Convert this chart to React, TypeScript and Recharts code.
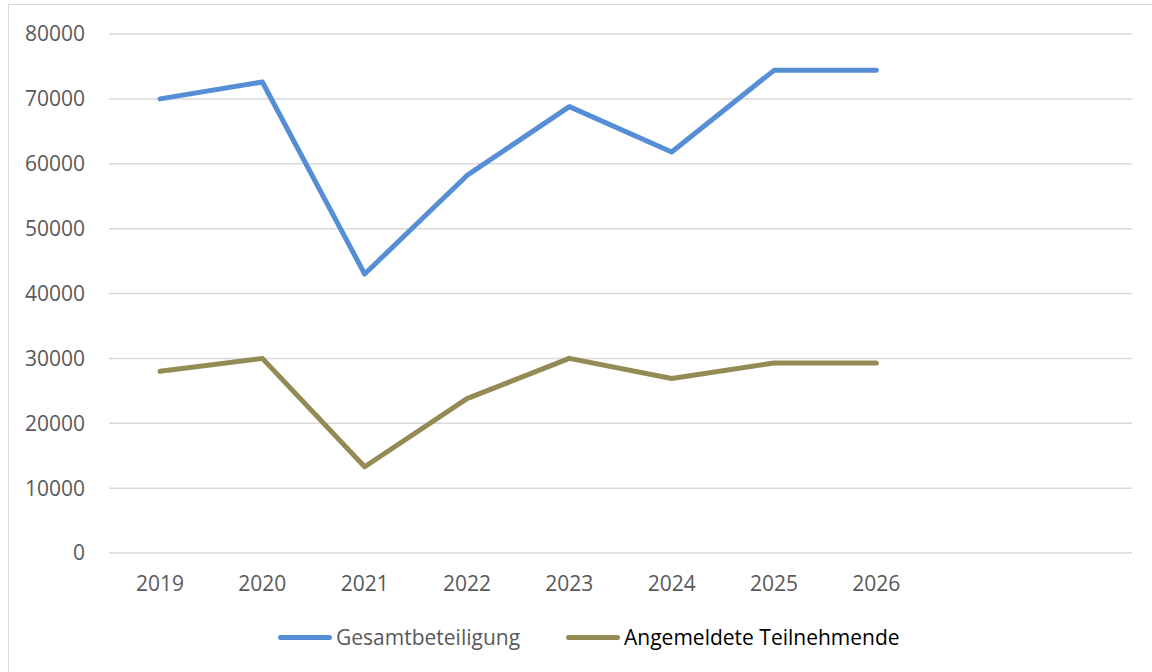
import React from "react";
import { LineChart, Line, XAxis, YAxis, CartesianGrid, Legend } from "recharts";

const categories = ["2019", "2020", "2021", "2022", "2023", "2024", "2025", "2026", "", ""];
const gesamtbeteiligung = [70000, 72600, 43000, 58200, 68800, 61800, 74400, 74400, null, null];
const angemeldete = [28000, 30000, 13300, 23800, 30000, 26900, 29300, 29300, null, null];
const yTicks = [0, 10000, 20000, 30000, 40000, 50000, 60000, 70000, 80000];
const seriesNames = ["Gesamtbeteiligung", "Angemeldete Teilnehmende"];
const seriesColors = ["#558ED5", "#948A54"];
const legendTextColors = ["#595959", "#000000"];

const data = categories.map((c, i) => ({
  year: c,
  key: i,
  g: gesamtbeteiligung[i],
  a: angemeldete[i],
}));

const FONT = "'Open Sans', sans-serif";

const LegendContent = () => (
  <div style={{ display: "flex", alignItems: "center", height: 30, paddingLeft: 269, fontFamily: FONT, fontSize: 21 }}>
    {seriesNames.map((n, i) => (
      <div key={n} style={{ display: "flex", alignItems: "center", marginRight: i === 0 ? 46 : 0 }}>
        <div style={{ width: 54, height: 5, borderRadius: 3, background: seriesColors[i], marginRight: 4 }} />
        <span style={{ color: legendTextColors[i], whiteSpace: "nowrap" }}>{n}</span>
      </div>
    ))}
  </div>
);

export default function App() {
  return (
    <div
      style={{
        position: "absolute",
        left: 8,
        top: 4,
        width: 1150,
        height: 680,
        border: "1px solid #D9D9D9",
        background: "#fff",
      }}
    >
      <LineChart
        width={1143}
        height={668}
        data={data}
        margin={{ top: 29, right: 20, bottom: 40, left: 0 }}
      >
        <CartesianGrid vertical={false} stroke="#D9D9D9" strokeWidth={1.5} />
        <XAxis
          dataKey="key"
          tickFormatter={(v: number) => categories[v]}
          axisLine={false}
          tickLine={false}
          tickSize={0}
          tickMargin={23}
          height={50}
          padding={{ left: 51, right: 51 }}
          interval={0}
          tick={{ fill: "#595959", fontSize: 21, fontFamily: FONT }}
        />
        <YAxis
          domain={[0, 80000]}
          ticks={yTicks}
          axisLine={false}
          tickLine={false}
          tickSize={0}
          tickMargin={24}
          width={100}
          tick={{ fill: "#595959", fontSize: 21, fontFamily: FONT }}
        />
        <Legend
          verticalAlign="bottom"
          content={<LegendContent />}
          wrapperStyle={{ top: 617, bottom: "auto", left: 0, width: 1143, height: 30 }}
        />
        <Line
          dataKey="g"
          name={seriesNames[0]}
          stroke={seriesColors[0]}
          strokeWidth={5}
          strokeLinecap="round"
          strokeLinejoin="round"
          dot={false}
          activeDot={false}
          isAnimationActive={false}
        />
        <Line
          dataKey="a"
          name={seriesNames[1]}
          stroke={seriesColors[1]}
          strokeWidth={5}
          strokeLinecap="round"
          strokeLinejoin="round"
          dot={false}
          activeDot={false}
          isAnimationActive={false}
        />
      </LineChart>
    </div>
  );
}
